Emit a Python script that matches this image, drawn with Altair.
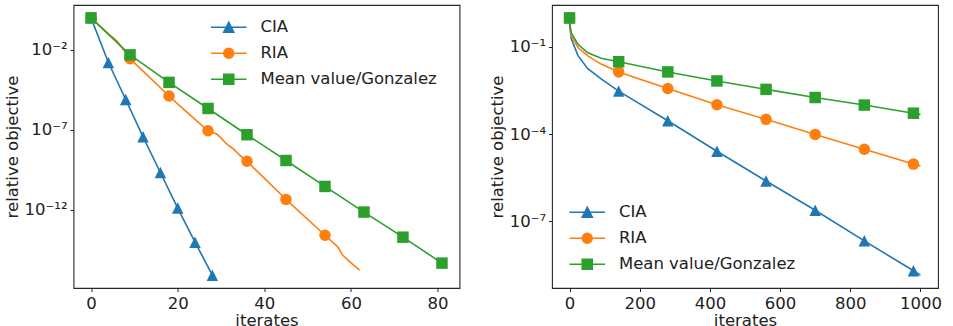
import math

import altair as alt
import pandas as pd

SERIES = ["CIA", "RIA", "Mean value/Gonzalez"]
COLORS = ["#1f77b4", "#ff7f0e", "#2ca02c"]

# ---- left panel: objective (log10) against iterates ----
left_cia_it = [0, 4, 8, 12, 16, 20, 24, 28]
left_cia_exp = [0.0, -2.79, -5.10, -7.43, -9.66, -11.88, -14.01, -16.07]
left_cia_marks = [0, 4, 8, 12, 16, 20, 24, 28]

left_ria_it = [0, 4, 6, 9, 18, 21, 27, 29, 30, 31, 32, 33, 34, 36, 45, 54, 57, 58, 60, 62]
left_ria_exp = [0.0, -1.0, -1.45, -2.55, -4.88, -5.62, -7.05, -7.25, -7.5, -7.8,
                -8.02, -8.22, -8.5, -8.96, -11.34, -13.58, -14.32, -14.8, -15.3, -15.75]
left_ria_marks = [0, 9, 18, 27, 36, 45, 54]

left_mean_it = [0, 9, 18, 27, 36, 45, 54, 63, 72, 81]
left_mean_exp = [0.0, -2.31, -4.03, -5.66, -7.30, -8.91, -10.53, -12.13, -13.70, -15.32]
left_mean_marks = [0, 9, 18, 27, 36, 45, 54, 63, 72, 81]

# ---- right panel: objective (log10) against iterates ----
right_it = [0, 1, 5, 24, 52, 90, 140, 280, 420, 560, 700, 840, 980, 1000]
right_cia_exp = [0.0, -0.30, -0.72, -1.30, -1.75, -2.10, -2.52, -3.54, -4.59, -5.61, -6.62, -7.67, -8.70, -8.85]
right_ria_exp = [0.0, -0.27, -0.62, -1.02, -1.31, -1.59, -1.86, -2.43, -2.99, -3.49, -4.01, -4.52, -5.03, -5.10]
right_mean_exp = [0.0, -0.24, -0.52, -0.91, -1.20, -1.39, -1.51, -1.86, -2.17, -2.46, -2.74, -3.00, -3.28, -3.32]
right_marks = [0, 140, 280, 420, 560, 700, 840, 980]

left_xticks = [0, 20, 40, 60, 80]
right_xticks = [0, 200, 400, 600, 800, 1000]
left_yticks_exp = [-2, -7, -12]
right_yticks_exp = [-1, -4, -7]

FONT = "DejaVu Sans"
FS = 16.5
INK = "#222222"

# marker glyphs for the data points
POINT_SHAPES = ["M0,-1L-1,1L1,1Z", "circle", "square"]
# legend glyphs: a short line segment with the marker on top
LEG_SHAPES = [
    "M-3.1,0H3.1M0,-0.87L-0.87,0.87L0.87,0.87Z",
    "M-3.1,0H3.1M0.87,0A0.87,0.87 0 1,1 -0.87,0A0.87,0.87 0 1,1 0.87,0Z",
    "M-3.1,0H3.1M-0.87,-0.87H0.87V0.87H-0.87Z",
]


def rows(panel, series, its, exps, marks):
    return [
        {"panel": panel, "series": series, "it": i, "val": 10.0 ** e, "mark": i in marks}
        for i, e in zip(its, exps)
    ]


records = []
records += rows("L", "CIA", left_cia_it, left_cia_exp, left_cia_marks)
records += rows("L", "RIA", left_ria_it, left_ria_exp, left_ria_marks)
records += rows("L", "Mean value/Gonzalez", left_mean_it, left_mean_exp, left_mean_marks)
records += rows("R", "CIA", right_it, right_cia_exp, right_marks)
records += rows("R", "RIA", right_it, right_ria_exp, right_marks)
records += rows("R", "Mean value/Gonzalez", right_it, right_mean_exp, right_marks)
df = pd.DataFrame(records)

SUP = str.maketrans("-0123456789", "\u207b\u2070\u00b9\u00b2\u00b3\u2074\u2075\u2076\u2077\u2078\u2079")


def log_label_expr(exps):
    mapping = ", ".join("'%d': '10%s'" % (e, str(e).translate(SUP)) for e in exps)
    return "{%s}['' + round(log(datum.value) / LN10)]" % mapping


def padded(lo, hi, frac=0.05):
    span = hi - lo
    return lo - frac * span, hi + frac * span


def panel(key, xticks, ytick_exps, legend_x, legend_y):
    sub = df[df.panel == key]
    x_lo, x_hi = padded(sub.it.min(), sub.it.max())
    exps = [math.log10(v) for v in sub.val]
    e_lo, e_hi = padded(min(exps), max(exps))

    x = alt.X("it:Q", title="iterates",
              scale=alt.Scale(domain=[x_lo, x_hi], nice=False, zero=False),
              axis=alt.Axis(values=xticks, format="d", titlePadding=1, labelPadding=3.5))
    y = alt.Y("val:Q", title="relative objective",
              scale=alt.Scale(type="log", domain=[10 ** e_lo, 10 ** e_hi], nice=False),
              axis=alt.Axis(values=[10.0 ** e for e in ytick_exps], titlePadding=4,
                            labelExpr=log_label_expr(ytick_exps)))

    base = alt.Chart(sub)
    layers = []
    for s, c, shp in zip(SERIES, COLORS, POINT_SHAPES):
        layers.append(
            base.transform_filter(alt.datum.series == s)
            .mark_line(color=c, strokeWidth=1.6)
            .encode(x=x, y=y)
        )
        layers.append(
            base.transform_filter((alt.datum.series == s) & alt.datum.mark)
            .mark_point(filled=True, opacity=1, size=132, shape=shp, color=c)
            .encode(x=x, y=y)
        )

    leg = alt.Legend(
        title=None, orient="none", legendX=legend_x, legendY=legend_y,
        symbolSize=132, symbolStrokeWidth=1.6, symbolOpacity=1,
        symbolOffset=10, labelOffset=23.4, labelFont=FONT, labelFontSize=FS,
        labelColor=INK, labelLimit=0, rowPadding=9, padding=0,
    )
    legend_layer = (
        base.transform_filter(alt.datum.mark)
        .mark_point(filled=True, opacity=0, size=132)
        .encode(
            x=x, y=y,
            fill=alt.Fill("series:N", scale=alt.Scale(domain=SERIES, range=COLORS), legend=leg),
            stroke=alt.Stroke("series:N", scale=alt.Scale(domain=SERIES, range=COLORS), legend=leg),
            shape=alt.Shape("series:N", scale=alt.Scale(domain=SERIES, range=LEG_SHAPES), legend=leg),
        )
    )
    return alt.layer(*layers, legend_layer).properties(width=386, height=283)


left = panel("L", left_xticks, left_yticks_exp, 137, 14)
right = panel("R", right_xticks, right_yticks_exp, 17, 199)

chart = (
    alt.hconcat(left, right, spacing=27.5)
    .resolve_scale(x="independent", y="independent", fill="independent",
                   stroke="independent", shape="independent")
    .resolve_legend(fill="independent", stroke="independent", shape="independent")
    .properties(padding={"left": 3.5, "top": 4, "right": 5, "bottom": -2}, background="white")
    .configure_view(stroke="#262626", strokeWidth=1.1)
    .configure_axis(
        domain=False, grid=False, ticks=True, tickSize=3.5, tickWidth=1, tickColor=INK,
        labelFont=FONT, labelFontSize=FS, labelColor=INK, labelPadding=3,
        titleFont=FONT, titleFontSize=FS, titleFontWeight="normal", titleColor=INK,
    )
)

chart.save("out.html", embed_options={"renderer": "svg", "actions": False})
